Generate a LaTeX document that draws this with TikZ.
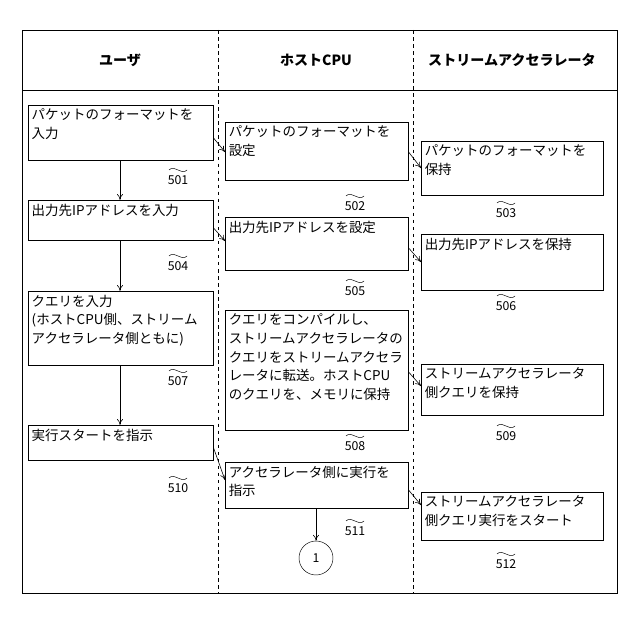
\documentclass[tikz,border=0pt]{standalone}
\usepackage{fontspec}
\setmainfont{Noto Sans CJK JP}
\usetikzlibrary{arrows.meta,calc}
\tikzset{
  box/.style={draw,line width=0.5pt,anchor=north west,inner sep=0pt},
  btext/.style={anchor=north west,align=left,inner sep=3pt,font=\fontsize{11.5}{16}\selectfont},
  num/.style={font=\fontsize{10.5}{12}\selectfont},
  head/.style={font=\bfseries\fontsize{12}{14}\selectfont},
  flow/.style={-{To[length=5pt,width=5pt]},line width=0.5pt},
}
\newcommand{\stepbox}[6]{% name, x, y, w, h, text
  \node[box,minimum width=#4*0.03cm,minimum height=#5*0.03cm] (#1) at (#2,#3) {};
  \node[btext] (#1t) at (#1.north west) {#6};
}
\newcommand{\reflabel}[3]{% name, x, y
  \node[num] (#1) at (#2,#3) {#1};
  \draw[line width=0.4pt] ($(#1)+(-9,-10)$) .. controls ($(#1)+(-3,-16)$) and ($(#1)+(3,-4)$) .. ($(#1)+(9,-10)$);
}
\begin{document}
\begin{tikzpicture}[x=0.03cm,y=-0.03cm]
    \useasboundingbox (0,0) rectangle (640,620);

    % frame and lanes
    \draw[line width=0.6pt] (22,30) rectangle (617,593);
    \draw[line width=0.6pt] (22,90) -- (617,90);
    \draw[dashed,line width=0.5pt] (218,30) -- (218,593);
    \draw[dashed,line width=0.5pt] (413,30) -- (413,593);
    \node[head] (huser) at (120,60) {ユーザ};
    \node[head] (hcpu) at (316,60) {ホストCPU};
    \node[head] (hacc) at (512,60) {ストリームアクセラレータ};

    % user
    \stepbox{b501}{28}{105}{185}{55}{パケットのフォーマットを\\入力}
    \stepbox{b504}{28}{200}{185}{40}{出力先IPアドレスを入力}
    \stepbox{b507}{28}{291}{185}{74}{クエリを入力\\(ホストCPU側、ストリーム\\アクセラレータ側ともに)}
    \stepbox{b510}{28}{425}{185}{35}{実行スタートを指示}

    % host cpu
    \stepbox{b502}{225}{122}{183}{58}{パケットのフォーマットを\\設定}
    \stepbox{b505}{225}{217}{183}{53}{出力先IPアドレスを設定}
    \stepbox{b508}{225}{310}{183}{120}{クエリをコンパイルし、\\ストリームアクセラレータの\\クエリをストリームアクセラ\\レータに転送。ホストCPU\\のクエリを、メモリに保持}
    \stepbox{b511}{225}{462}{183}{46}{アクセラレータ側に実行を\\指示}

    % accelerator
    \stepbox{b503}{421}{141}{182}{54}{パケットのフォーマットを\\保持}
    \stepbox{b506}{421}{234}{182}{56}{出力先IPアドレスを保持}
    \stepbox{b509}{421}{364}{182}{51}{ストリームアクセラレータ\\側クエリを保持}
    \stepbox{b512}{421}{492}{182}{48}{ストリームアクセラレータ\\側クエリ実行をスタート}

    \node[draw,circle,minimum size=34*0.03cm,inner sep=0pt,font=\fontsize{10.5}{12}\selectfont] (c1) at (316,558) {1};

    % labels
    \reflabel{501}{178}{180}
    \reflabel{502}{355}{206}
    \reflabel{503}{506}{213}
    \reflabel{504}{178}{266}
    \reflabel{505}{355}{291}
    \reflabel{506}{506}{306}
    \reflabel{507}{178}{381}
    \reflabel{508}{355}{446}
    \reflabel{509}{506}{436}
    \reflabel{510}{178}{488}
    \reflabel{511}{355}{531}
    \reflabel{512}{506}{564}

    % flows
    \draw[flow] (b501.south -| 120,0) -- (b504.north -| 120,0);
    \draw[flow] (b504.south -| 120,0) -- (b507.north -| 120,0);
    \draw[flow] (b507.south -| 120,0) -- (b510.north -| 120,0);
    \draw[flow] (b511.south -| c1) -- (c1.north);
    \draw[flow] (b501.east |- 0,138) -- (b502.west |- 0,152);
    \draw[flow] (b502.east |- 0,152) -- (b503.west |- 0,168);
    \draw[flow] (b504.east |- 0,228) -- (b505.west |- 0,241);
    \draw[flow] (b505.east |- 0,248) -- (b506.west |- 0,262);
    \draw[flow] (b508.east |- 0,372) -- (b509.west |- 0,386);
    \draw[flow] (b510.east |- 0,448) -- (b511.west |- 0,480);
    \draw[flow] (b511.east |- 0,490) -- (b512.west |- 0,505);
\end{tikzpicture}
\end{document}
